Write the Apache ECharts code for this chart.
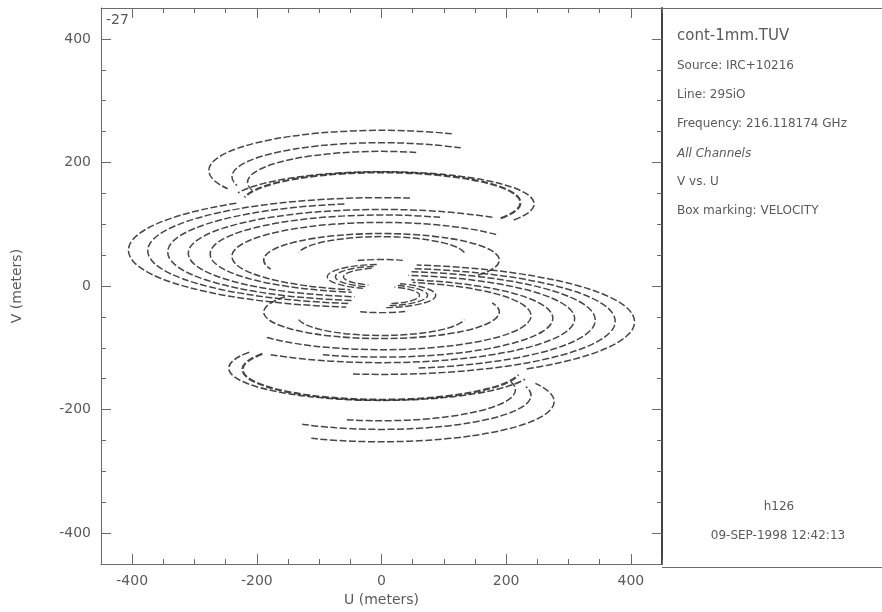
<!DOCTYPE html>
<html>
<head>
<meta charset="utf-8">
<script src="https://cdn.jsdelivr.net/npm/echarts@6/dist/echarts.min.js"></script>
<style>html,body{margin:0;padding:0;background:#fff}#c{width:882px;height:612px}</style>
</head>
<body>
<div id="c"></div>
<script>
// Tick values (metres)
const uTicks = [-400, -200, 0, 200, 400];
const vTicks = [-400, -200, 0, 200, 400];

// uv tracks: each is an elliptical arc centred on u = 0
// [centreV, semiAxisU, semiAxisV, startDeg, endDeg, lineWidth]
const upperTracks = [
  [187, 277, 65, 66, 207, 1.5],
  [177, 240, 55, 58, 195, 1.5],
  [168, 215, 50, 75, 195, 1.5],
  [135, 223, 49, -31, 170, 2.2],
  [133, 245, 52, -30, 160, 1.6],
  [58, 406, 93, 125, 262, 1.5],
  [57, 375, 86, 83, 262, 1.5],
  [55, 343, 79, 100, 262, 1.5],
  [53, 310, 71, 55, 262, 1.5],
  [52, 275, 63, 70, 260, 1.5],
  [48, 240, 55, 40, 258, 1.5],
  [42, 189, 43, -35, 200, 1.6],
  [49, 135, 31, 10, 170, 1.5],
  [15, 87, 20, 95, 250, 1.4],
  [15, 74, 17, 100, 250, 1.4],
  [15, 61, 14, 105, 250, 1.4],
  [20, 100, 23, 70, 115, 1.4]
];
const lowerTracks = [
  [-187, 277, 65, 246, 387, 1.5],
  [-177, 240, 55, 238, 375, 1.5],
  [-168, 215, 50, 255, 375, 1.5],
  [-135, 223, 49, 149, 350, 2.2],
  [-133, 245, 52, 150, 340, 1.6],
  [-58, 406, 93, 305, 442, 1.5],
  [-57, 375, 86, 263, 442, 1.5],
  [-55, 343, 79, 280, 442, 1.5],
  [-53, 310, 71, 235, 442, 1.5],
  [-52, 275, 63, 250, 440, 1.5],
  [-48, 240, 55, 220, 438, 1.5],
  [-42, 189, 43, 145, 380, 1.6],
  [-49, 135, 31, 190, 350, 1.5],
  [-15, 87, 20, 275, 430, 1.4],
  [-15, 74, 17, 280, 430, 1.4],
  [-15, 61, 14, 285, 430, 1.4],
  [-20, 100, 23, 250, 295, 1.4]
];

const panelLines = [
  'Source: IRC+10216',
  'Line: 29SiO',
  'Frequency: 216.118174 GHz',
  'All Channels',
  'V vs. U',
  'Box marking: VELOCITY'
];
const panelTitle = 'cont-1mm.TUV';
const panelProject = 'h126';
const panelDate = '09-SEP-1998 12:42:13';
const cornerLabel = '-27';

const AXC = '#6a6a6a';
const TXC = '#5a5a5a';
const FONT = 'DejaVu Sans';

function majorAxis(pos, withLabels, name, nameGap) {
  const vert = pos === 'left' || pos === 'right';
  const o = {
    type: 'value', min: -450, max: 450, position: pos,
    axisLine: {show: true, onZero: false, lineStyle: {color: AXC, width: 1}},
    axisTick: {show: true, inside: true, length: 10, customValues: vert ? vTicks : uTicks, lineStyle: {color: AXC}},
    axisLabel: {show: withLabels, customValues: vert ? vTicks : uTicks, margin: 10, color: TXC, fontSize: 14, fontFamily: FONT},
    splitLine: {show: false}
  };
  if (name) {
    o.name = name; o.nameLocation = 'middle'; o.nameGap = nameGap;
    o.nameTextStyle = {color: TXC, fontSize: 14, fontFamily: FONT};
  }
  return o;
}
function minorAxis(pos) {
  return {
    type: 'value', min: -450, max: 450, interval: 50, position: pos,
    axisLine: {show: false, onZero: false},
    axisTick: {show: true, inside: true, length: 5, lineStyle: {color: AXC}},
    axisLabel: {show: false},
    splitLine: {show: false}
  };
}

function renderTrack(params, api) {
  const vc = api.value(0), a = api.value(1), b = api.value(2);
  const t1 = api.value(3) * Math.PI / 180, t2 = api.value(4) * Math.PI / 180, w = api.value(5);
  const c = api.coord([0, vc]);
  const s = api.size([a, b]);
  const rx = s[0], ry = s[1];
  const x1 = c[0] + rx * Math.cos(t1), y1 = c[1] - ry * Math.sin(t1);
  const x2 = c[0] + rx * Math.cos(t2), y2 = c[1] - ry * Math.sin(t2);
  const large = (t2 - t1) > Math.PI ? 1 : 0;
  return {
    type: 'path',
    shape: {pathData: 'M' + x1 + ' ' + y1 + ' A' + rx + ' ' + ry + ' 0 ' + large + ' 0 ' + x2 + ' ' + y2},
    style: {stroke: '#262626', fill: 'none', lineWidth: w, lineDash: [7, 2.5], opacity: 0.85}
  };
}

const chart = echarts.init(document.getElementById('c'), null, {renderer: 'canvas'});
const panelText = [];
panelText.push({type: 'text', left: 677, top: 29, style: {text: panelTitle, fill: TXC, font: '15px "' + FONT + '"'}});
const panelTops = [60, 89, 118, 148, 176, 205];
panelLines.forEach((t, i) => {
  panelText.push({type: 'text', left: 677, top: panelTops[i], style: {text: t, fill: TXC, font: (i === 3 ? 'italic ' : '') + '12px "' + FONT + '"'}});
});
panelText.push({type: 'text', x: 779, y: 507, style: {text: panelProject, fill: TXC, font: '12px "' + FONT + '"', align: 'center', verticalAlign: 'middle'}});
panelText.push({type: 'text', x: 778, y: 536, style: {text: panelDate, fill: TXC, font: '12px "' + FONT + '"', align: 'center', verticalAlign: 'middle'}});
panelText.push({type: 'text', left: 106, top: 13, style: {text: cornerLabel, fill: TXC, font: '14px "' + FONT + '"'}});
// frame extension for the side panel
panelText.push({type: 'line', shape: {x1: 662, y1: 8.5, x2: 882, y2: 8.5}, style: {stroke: AXC, lineWidth: 1}});
panelText.push({type: 'line', shape: {x1: 662, y1: 567.5, x2: 882, y2: 567.5}, style: {stroke: AXC, lineWidth: 1}});

const rightMajor = majorAxis('right', false);
rightMajor.axisLine.lineStyle = {color: '#444', width: 2};

chart.setOption({
  animation: false,
  backgroundColor: '#fff',
  grid: {left: 101, top: 8, width: 561, height: 559, containLabel: false},
  xAxis: [
    majorAxis('bottom', true, 'U (meters)', 27),
    minorAxis('bottom'),
    majorAxis('top', false),
    minorAxis('top')
  ],
  yAxis: [
    majorAxis('left', true, 'V (meters)', 77),
    minorAxis('left'),
    rightMajor,
    minorAxis('right')
  ],
  graphic: panelText,
  series: [{
    type: 'custom',
    coordinateSystem: 'cartesian2d',
    xAxisIndex: 0, yAxisIndex: 0,
    renderItem: renderTrack,
    data: upperTracks.concat(lowerTracks),
    silent: true,
    clip: true
  }]
});
</script>
</body>
</html>
